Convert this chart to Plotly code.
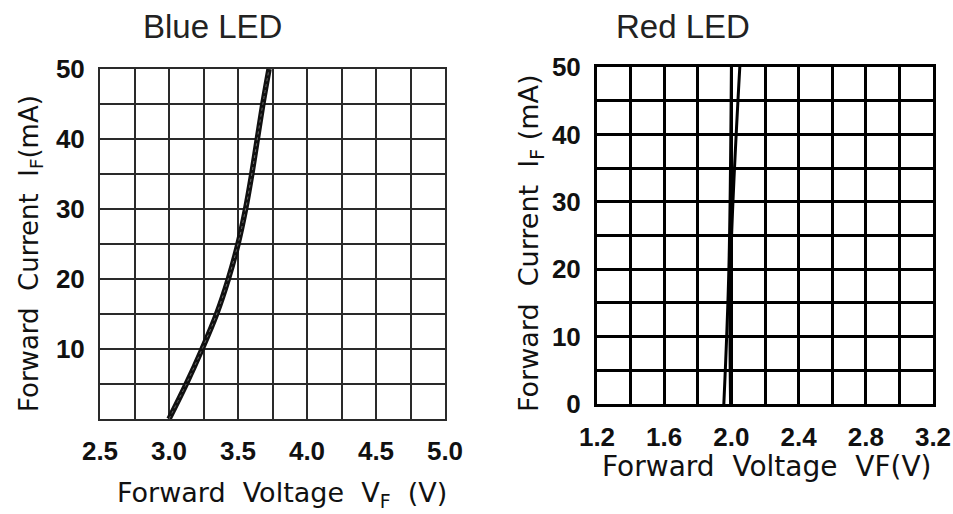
import plotly.graph_objects as go

W, H = 953, 514

# ---- data ----
blue_current = [0, 5, 10, 15, 20, 25, 30, 35, 40, 45, 50]
blue_voltage = [3.00, 3.125, 3.24, 3.345, 3.43, 3.50, 3.555, 3.60, 3.64, 3.68, 3.725]

red_current = [0, 20, 50]
red_voltage_a = [1.955, 1.985, 2.00]
red_voltage_b = [1.995, 1.995, 2.05]

blue_xticks = [2.5, 3.0, 3.5, 4.0, 4.5, 5.0]
blue_yticks = [10, 20, 30, 40, 50]
red_xticks = [1.2, 1.6, 2.0, 2.4, 2.8, 3.2]
red_yticks = [0, 10, 20, 30, 40, 50]


def px(x):
    return x / W


def py(y):
    return 1 - y / H


TICKFONT = dict(family="Liberation Sans, Arial, sans-serif", size=26, color="#111", weight="bold")
LABELFONT = dict(family="DejaVu Sans, Verdana, sans-serif", size=26, color="#111")
TITLEFONT = dict(family="Liberation Sans, Arial, Helvetica, sans-serif", size=33, color="#222")

fig = go.Figure()

# Blue LED curve (thick bundle)
fig.add_trace(go.Scatter(x=blue_voltage, y=blue_current, mode="lines",
                         line=dict(color="#111", width=5.5, shape="spline", smoothing=1.0),
                         xaxis="x", yaxis="y", showlegend=False, hoverinfo="skip"))
fig.add_trace(go.Scatter(x=blue_voltage, y=blue_current, mode="lines",
                         line=dict(color="#666", width=1, dash="dot", shape="spline", smoothing=1.0),
                         xaxis="x", yaxis="y", showlegend=False, hoverinfo="skip"))

# Red LED curves
fig.add_trace(go.Scatter(x=red_voltage_a, y=red_current, mode="lines",
                         line=dict(color="#000", width=3, shape="spline"), xaxis="x2", yaxis="y2",
                         showlegend=False, hoverinfo="skip"))
fig.add_trace(go.Scatter(x=red_voltage_b, y=red_current, mode="lines",
                         line=dict(color="#000", width=3, shape="spline"), xaxis="x2", yaxis="y2",
                         showlegend=False, hoverinfo="skip"))

left_grid = dict(showgrid=True, gridcolor="#2a2a2a", gridwidth=2,
                 showline=True, linecolor="#2a2a2a", linewidth=2, mirror=True,
                 zeroline=False, ticks="", tickfont=TICKFONT, ticklabelstandoff=8,
                 automargin=False)
right_grid = dict(showgrid=True, gridcolor="#000", gridwidth=3,
                  showline=True, linecolor="#000", linewidth=3, mirror=True,
                  zeroline=False, ticks="", tickfont=TICKFONT, ticklabelstandoff=8,
                  automargin=False)

fig.update_layout(
    width=W, height=H,
    margin=dict(l=0, r=0, t=0, b=0, autoexpand=False),
    paper_bgcolor="white", plot_bgcolor="white",
    showlegend=False,
    xaxis=dict(domain=[px(100), px(445)], range=[2.5, 5.0], anchor="y",
               tickvals=blue_xticks, ticktext=[f"{v:.1f}" for v in blue_xticks],
               minor=dict(dtick=0.25, showgrid=True, gridcolor="#2a2a2a", gridwidth=2, ticks=""),
               **left_grid),
    yaxis=dict(domain=[py(419), py(69)], range=[0, 50], anchor="x",
               tickvals=blue_yticks,
               minor=dict(dtick=5, showgrid=True, gridcolor="#2a2a2a", gridwidth=2, ticks=""),
               **left_grid),
    xaxis2=dict(domain=[px(597), px(933)], range=[1.2, 3.2], anchor="y2",
                tickvals=red_xticks, ticktext=[f"{v:.1f}" for v in red_xticks],
                minor=dict(dtick=0.2, showgrid=True, gridcolor="#000", gridwidth=3, ticks=""),
                **right_grid),
    yaxis2=dict(domain=[py(404), py(67)], range=[0, 50], anchor="x2",
                tickvals=red_yticks,
                minor=dict(dtick=5, showgrid=True, gridcolor="#000", gridwidth=3, ticks=""),
                **right_grid),
)

annotations = [
    dict(text="Blue LED", x=px(212), y=py(26), font=TITLEFONT),
    dict(text="Red LED", x=px(683), y=py(26), font=TITLEFONT),
    dict(text="Forward  Voltage  V<sub>F</sub>  (V)", x=px(282), y=py(494), font=dict(LABELFONT, size=27)),
    dict(text="Forward  Voltage  VF(V)", x=px(767), y=py(466), font=dict(LABELFONT, size=28)),
    dict(text="Forward  Current  I<sub>F</sub>(mA)", x=px(30), y=py(254), textangle=-90, font=LABELFONT),
    dict(text="Forward  Current  I<sub>F</sub> (mA)", x=px(530), y=py(243), textangle=-90, font=dict(LABELFONT, size=27)),
]
for a in annotations:
    fig.add_annotation(xref="paper", yref="paper", showarrow=False,
                       xanchor="center", yanchor="middle", **a)

fig.write_html("out.html")
